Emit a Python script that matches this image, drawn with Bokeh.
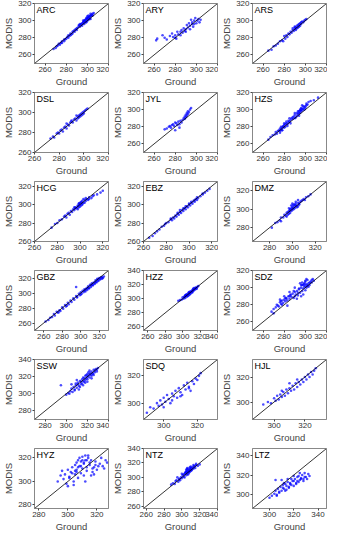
from bokeh.plotting import figure
from bokeh.layouts import gridplot
from bokeh.models import Slope, FixedTicker, Range1d, Label
from bokeh.embed import file_html
from bokeh.resources import INLINE

names = ["ARC", "ARY", "ARS", "DSL", "JYL", "HZS", "HCG", "EBZ", "DMZ",
         "GBZ", "HZZ", "SDZ", "SSW", "SDQ", "HJL", "HYZ", "NTZ", "LTZ"]
ranges = {
    "ARC": (250, 320), "ARY": (250, 320), "ARS": (250, 320),
    "DSL": (260, 320), "JYL": (250, 320), "HZS": (250, 320),
    "HCG": (260, 325), "EBZ": (260, 325), "DMZ": (265, 330),
    "GBZ": (250, 330), "HZZ": (255, 340), "SDZ": (250, 320),
    "SSW": (270, 340), "SDQ": (288, 332), "HJL": (286, 334),
    "HYZ": (277, 328), "NTZ": (257, 340), "LTZ": (286, 347),
}
ticks = {
    "ARC": [260, 280, 300, 320], "ARY": [260, 280, 300, 320], "ARS": [260, 280, 300, 320],
    "DSL": [260, 280, 300, 320], "JYL": [260, 280, 300, 320], "HZS": [260, 280, 300, 320],
    "HCG": [260, 280, 300, 320], "EBZ": [260, 280, 300, 320], "DMZ": [280, 300, 320],
    "GBZ": [260, 280, 300, 320], "HZZ": [260, 280, 300, 320, 340], "SDZ": [260, 280, 300, 320],
    "SSW": [280, 300, 320, 340], "SDQ": [300, 320], "HJL": [300, 320],
    "HYZ": [280, 300, 320], "NTZ": [260, 280, 300, 320, 340], "LTZ": [300, 320, 340],
}

ARC_x = [268,270,272,273,275,276,278,279,280,281,282,283,284,285,286,287,288,289,290,291,292,293,294,295,295,296,297,297,298,298,299,299,300,300,301,301,302,302,303,304,305,306,296,293,300,303,
         296,297,298,299,300,301,302,303,304,299,301,303,305,294,292,290,288,286,284,282,278,276,274,271]
ARC_y = [267,268,271,273,274,276,278,278,279,281,283,282,285,284,287,288,287,290,291,292,294,293,296,297,294,298,299,296,301,298,302,299,303,300,304,301,305,302,306,306,308,309,300,296,305,302,
         297,300,300,303,302,306,304,305,307,298,303,308,306,295,295,289,289,285,283,280,276,274,272,270]
ARY_x = [262,263,268,270,272,275,277,278,280,281,282,283,285,286,287,288,289,290,291,292,293,294,295,296,297,298,299,300,301,302,303,304,294,296,298,290,285,280]
ARY_y = [277,279,283,280,278,282,285,281,283,279,287,284,283,289,286,291,288,290,295,292,297,294,301,298,293,300,303,297,300,302,298,301,290,296,296,287,287,280]
ARS_x = [265,268,270,272,274,276,278,279,280,281,282,283,284,285,286,287,288,289,290,290,291,291,292,292,293,293,294,294,295,295,296,296,297,298,299,300,301,288,290]
ARS_y = [265,266,270,271,273,276,277,276,282,279,283,281,285,284,287,286,289,288,293,290,292,289,294,291,295,292,296,293,297,294,296,298,299,298,300,301,302,291,292]
DSL_x = [273,275,276,278,279,280,281,282,283,284,285,286,287,288,289,290,291,292,293,294,295,295,296,296,297,297,298,298,299,299,300,300,301,302,303,286,290,294]
DSL_y = [274,276,275,279,280,279,282,283,281,285,286,284,288,287,290,291,290,293,294,292,296,294,297,295,298,296,299,297,300,298,301,299,302,303,304,289,292,297]
JYL_x = [270,272,274,275,276,277,278,279,280,281,282,283,284,285,286,287,288,289,289,290,290,291,291,292,292,293,294,295,284,280]
JYL_y = [277,278,280,281,279,282,283,281,285,284,282,286,283,287,285,288,290,289,292,291,294,293,296,295,298,297,300,302,279,276]
HZS_x = [265,267,269,271,272,273,274,275,276,276,277,277,278,278,279,280,280,281,282,283,284,285,286,287,288,289,290,291,292,293,294,294,295,295,296,296,297,297,298,299,300,301,302,303,305,308,312,280,285,290,
         276,278,279,281,282,283,284,286,288,290,292,293,295,297,298,300,296,294,299,301]
HZS_y = [265,268,270,271,274,272,275,276,273,278,277,280,276,279,281,282,279,283,284,283,287,286,288,290,289,292,294,291,296,295,298,293,300,296,302,298,299,305,301,303,304,307,306,309,310,311,314,284,290,296,
         275,276,280,280,286,281,285,284,291,290,293,298,299,301,304,302,300,296,300,305]
HCG_x = [275,278,280,282,284,286,287,288,289,290,291,292,293,294,295,296,297,298,298,299,299,300,300,301,301,302,302,303,304,305,306,307,308,310,312,315,318,320,
         296,298,300,302,304,299,301,303,305,295,308,311]
HCG_y = [275,279,280,283,284,287,288,286,290,291,289,293,292,295,294,297,296,299,295,301,297,302,298,303,299,304,300,302,305,304,306,305,308,307,310,311,313,315,
         296,298,300,301,302,301,302,306,307,297,306,309]
EBZ_x = [265,268,270,272,274,276,278,280,282,284,285,286,287,288,289,290,291,292,293,294,295,296,297,298,299,300,301,302,303,304,305,306,307,308,310,312,314,316,318,
         290,295,300,305,292,297,302,307,312,284,279]
EBZ_y = [264,266,269,271,273,276,277,280,281,284,283,286,285,288,287,290,289,292,291,294,293,296,295,298,297,300,299,302,301,304,303,306,305,307,309,311,313,315,317,
         291,296,301,305,294,298,303,308,312,285,279]
DMZ_x = [282,285,287,289,290,292,293,294,295,296,297,297,298,298,299,299,300,300,301,301,302,302,303,303,304,305,305,306,307,308,309,310,311,312,314,316,290,295,
         296,298,300,302,304,306,299,301,303,305,297,300]
DMZ_y = [280,285,286,288,291,291,294,293,296,294,298,295,300,296,301,298,303,299,302,300,305,301,303,306,304,307,303,306,308,309,310,311,310,313,314,316,287,292,
         297,299,301,304,302,305,304,305,308,310,301,306]
GBZ_x = [262,265,267,269,271,272,274,275,277,278,280,281,283,284,286,287,289,290,292,293,295,296,298,299,300,301,302,303,304,305,306,307,308,309,310,311,312,313,314,315,316,317,318,319,320,321,322,323,325,295,
         305,307,309,311,313,315,317,319,321,323,324,318,316,312,308,304,300,296,285,276]
GBZ_y = [262,264,267,268,272,270,275,274,277,276,281,279,284,282,287,285,290,288,293,291,296,294,299,297,301,299,303,301,305,302,306,304,309,306,311,308,313,310,314,312,317,314,318,316,320,318,321,319,322,308,
         304,306,307,310,311,313,315,317,319,321,320,319,315,311,307,303,298,295,283,274]
HZZ_x = [295,297,299,300,301,302,303,303,304,305,305,306,307,307,308,309,309,310,311,311,312,313,313,314,315,316,317,318,304,308,312,
         302,304,306,308,310,312,314,316,303,307,311,315]
HZZ_y = [297,298,299,302,300,303,301,305,304,303,306,307,305,309,308,307,310,311,309,312,313,312,315,314,316,315,317,318,306,310,314,
         302,305,304,306,309,311,313,314,304,308,310,315]
SDZ_x = [268,270,272,273,275,276,277,278,279,280,281,282,283,284,285,286,287,288,289,290,291,292,293,294,295,296,297,297,298,298,299,299,300,300,301,301,302,302,303,304,305,306,307,308,280,285,290,295,300,276,283,292,296,
         270,274,278,282,286,290,294,298,302,306,296,300,304,299,303,293,289,285,281,277,301,297]
SDZ_y = [272,275,277,280,278,283,281,285,282,286,284,288,285,290,287,292,289,293,288,295,292,296,291,298,294,300,296,303,292,299,301,305,297,307,300,304,302,309,305,303,307,306,310,308,290,295,300,305,308,286,279,287,290,
         270,279,280,287,291,290,299,303,303,309,303,302,306,304,301,294,296,290,288,284,310,306]
SSW_x = [295,300,302,304,305,306,307,308,309,310,311,312,313,314,315,315,316,317,318,318,319,320,320,321,322,322,323,324,325,326,327,328,329,330,312,316,320,324,310,305,
         308,311,314,317,319,321,323,325,327,329,313,316,318,320,322,324,326,303,309]
SSW_y = [310,299,301,303,306,302,308,305,310,307,313,309,315,311,317,312,319,314,321,316,318,323,320,325,319,327,322,326,324,328,325,329,328,330,305,310,314,318,316,311,
         304,311,314,318,322,321,324,323,327,326,308,315,313,317,323,321,322,300,312]
SDQ_x = [290,292,294,296,297,298,299,300,301,302,303,304,305,306,307,308,309,310,311,312,313,314,315,316,317,318,319,320,321,322,300,305,310,315]
SDQ_y = [293,297,296,300,298,302,299,304,301,306,303,300,307,305,309,304,311,308,306,313,310,315,312,309,316,314,318,317,320,322,297,302,305,311]
HJL_x = [293,296,298,300,301,302,303,304,305,306,307,308,309,310,311,312,313,314,315,316,317,318,319,320,321,322,323,324,325,326,327,310,315,305]
HJL_y = [298,300,299,303,301,305,302,306,304,308,305,310,307,311,309,313,310,315,312,316,314,318,316,320,318,322,320,324,322,325,327,315,318,309]
HYZ_x = [293,295,297,298,299,300,301,302,303,304,305,305,306,306,307,307,308,308,309,309,310,310,311,311,312,312,313,313,314,315,316,317,318,319,320,322,324,326,327,300,304,296,312,316,
         301,303,305,307,309,311,313,315,317,319,321,323,325,306,310,314,318]
HYZ_y = [300,305,302,306,298,310,304,308,312,300,314,306,316,310,318,303,313,320,307,317,321,311,315,305,318,322,312,309,320,316,318,308,312,314,310,315,313,318,316,296,297,309,300,305,
         303,307,309,312,313,316,318,314,311,317,313,320,311,308,318,322,306]
NTZ_x = [288,290,292,294,296,297,298,299,300,301,302,303,303,304,305,305,306,306,307,307,308,308,309,309,310,310,311,312,313,314,315,316,318,320,300,305,310,295,
         304,306,308,310,312,314,306,309,311,313,316,302,305,307,293,297]
NTZ_y = [290,292,291,296,294,298,296,300,299,303,301,305,300,307,303,309,305,311,304,308,310,306,312,308,313,309,311,314,312,316,313,317,316,318,305,311,315,300,
         306,308,309,311,313,315,313,314,310,317,319,304,307,312,295,297]
LTZ_x = [300,302,304,305,306,307,308,309,310,311,312,313,314,315,316,317,318,319,320,321,322,323,324,325,326,327,328,329,330,331,332,333,310,315,320,325,305,
         308,311,314,317,320,323,326,329,312,318,324,316,322,328,306,313]
LTZ_y = [297,299,301,304,300,306,302,308,304,310,306,311,305,313,308,312,310,314,309,316,312,318,313,315,317,320,314,322,318,316,321,319,315,316,319,322,315,
         303,307,309,311,314,314,316,318,312,316,319,307,311,316,299,304]

data = {
    "ARC": (ARC_x, ARC_y), "ARY": (ARY_x, ARY_y), "ARS": (ARS_x, ARS_y),
    "DSL": (DSL_x, DSL_y), "JYL": (JYL_x, JYL_y), "HZS": (HZS_x, HZS_y),
    "HCG": (HCG_x, HCG_y), "EBZ": (EBZ_x, EBZ_y), "DMZ": (DMZ_x, DMZ_y),
    "GBZ": (GBZ_x, GBZ_y), "HZZ": (HZZ_x, HZZ_y), "SDZ": (SDZ_x, SDZ_y),
    "SSW": (SSW_x, SSW_y), "SDQ": (SDQ_x, SDQ_y), "HJL": (HJL_x, HJL_y),
    "HYZ": (HYZ_x, HYZ_y), "NTZ": (NTZ_x, NTZ_y), "LTZ": (LTZ_x, LTZ_y),
}

FONT = "Liberation Sans"
figs = []
for name in names:
    lo, hi = ranges[name]
    p = figure(width=109, height=89, x_range=Range1d(lo, hi), y_range=Range1d(lo, hi),
               output_backend="svg", toolbar_location=None,
               min_border_left=27, min_border_right=1, min_border_top=3, min_border_bottom=21)
    p.grid.visible = False
    p.outline_line_color = "#888888"
    p.outline_line_width = 1
    for ax in (p.xaxis[0], p.yaxis[0]):
        ax.ticker = FixedTicker(ticks=ticks[name])
        ax.axis_line_color = "#888888"
        ax.major_tick_line_color = "#444444"
        ax.major_tick_in = 0
        ax.major_tick_out = 2
        ax.minor_tick_line_color = None
        ax.major_label_text_font = FONT
        ax.major_label_text_font_size = "8px"
        ax.major_label_text_color = "#333333"
        ax.major_label_standoff = 1
        ax.axis_label_text_font = FONT
        ax.axis_label_text_font_size = "9.5px"
        ax.axis_label_text_font_style = "normal"
        ax.axis_label_text_color = "#444444"
        ax.axis_label_standoff = 1
    p.xaxis.axis_label = "Ground"
    p.yaxis.axis_label = "MODIS"
    p.add_layout(Slope(gradient=1, y_intercept=0, line_color="black", line_width=0.8))
    xs, ys = data[name]
    p.scatter(xs, ys, size=2.6, color="blue", alpha=0.7, line_width=0)
    p.add_layout(Label(x=lo, y=hi, x_offset=2, y_offset=-1, text=name, text_baseline="top",
                       text_font=FONT, text_font_size="9px", text_color="black"))
    figs.append(p)

grid = gridplot(figs, ncols=3, toolbar_location=None)
open("out.html", "w").write(file_html(grid, INLINE))
